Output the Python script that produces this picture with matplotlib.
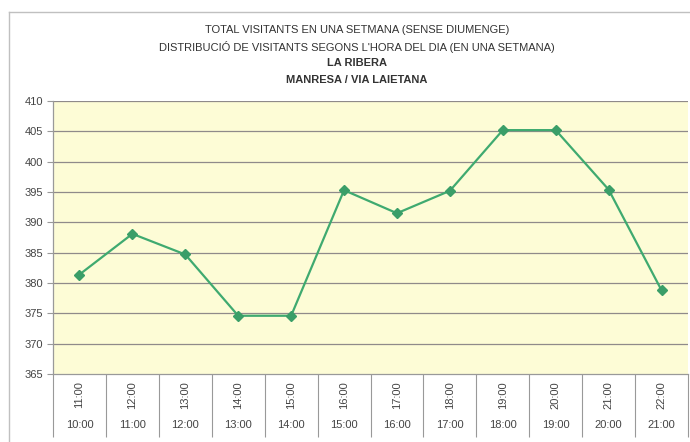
import matplotlib
matplotlib.use("Agg")
import matplotlib.pyplot as plt
from matplotlib.lines import Line2D
import matplotlib.transforms as mtransforms

plt.rcParams['font.family'] = ['Liberation Sans', 'DejaVu Sans']

title_lines = [
    "TOTAL VISITANTS EN UNA SETMANA (SENSE DIUMENGE)",
    "DISTRIBUCIÓ DE VISITANTS SEGONS L'HORA DEL DIA (EN UNA SETMANA)",
    "LA RIBERA",
    "MANRESA / VIA LAIETANA",
]
start_hours = ["10:00", "11:00", "12:00", "13:00", "14:00", "15:00",
               "16:00", "17:00", "18:00", "19:00", "20:00", "21:00"]
end_hours = ["11:00", "12:00", "13:00", "14:00", "15:00", "16:00",
             "17:00", "18:00", "19:00", "20:00", "21:00", "22:00"]
visitors = [381.4, 388.1, 384.7, 374.6, 374.6, 395.3,
            391.5, 395.2, 405.2, 405.2, 395.4, 378.8]
y_ticks = [365, 370, 375, 380, 385, 390, 395, 400, 405, 410]

W, H = 690, 442
fig = plt.figure(figsize=(W / 100, H / 100), dpi=100)
fig.patch.set_facecolor('white')

# outer chart frame (top and left)
fig.add_artist(Line2D([9 / W, 9 / W], [0, 1 - 12 / H], color='#c0c0c0', lw=1.0))
fig.add_artist(Line2D([9 / W, 1], [1 - 12 / H, 1 - 12 / H], color='#c0c0c0', lw=1.0))

left, right, top, bottom = 53, 688, 101, 374
ax = fig.add_axes([left / W, 1 - bottom / H, (right - left) / W, (bottom - top) / H])
ax.set_facecolor('#FDFCD6')

x = list(range(len(visitors)))
ax.set_xlim(-0.5, len(visitors) - 0.5)
ax.set_ylim(y_ticks[0], y_ticks[-1])

for v in y_ticks[1:]:
    ax.axhline(v, color='#8f8a8a', lw=0.9, zorder=1)

ax.plot(x, visitors, color='#3FAA70', lw=1.6, marker='D', markersize=5.5,
        markerfacecolor='#3A9E68', markeredgecolor='#3A9E68', zorder=3)

for s in ['top', 'right']:
    ax.spines[s].set_visible(False)
ax.spines['left'].set_color('#999999')
ax.spines['bottom'].set_color('#999999')
ax.spines['left'].set_linewidth(0.9)
ax.spines['bottom'].set_linewidth(0.9)

ax.set_yticks(y_ticks)
ax.set_yticklabels([str(v) for v in y_ticks], fontsize=8, color='#444444')
ax.tick_params(axis='y', length=4, width=0.8, color='#999999', pad=3)

# category dividers below axis
ax.set_xticks([i - 0.5 for i in range(len(visitors) + 1)], minor=True)
ax.set_xticks(x)
ax.set_xticklabels([])
ax.tick_params(axis='x', which='major', length=0)
ax.tick_params(axis='x', which='minor', length=45, width=0.8, color='#999999')

trans = mtransforms.blended_transform_factory(ax.transData, ax.transAxes)
ax_h = bottom - top
for i in x:
    ax.text(i, -21 / ax_h, end_hours[i], rotation=90, ha='center', va='center',
            fontsize=8, color='#444444', transform=trans)
    ax.text(i, -51 / ax_h, start_hours[i], ha='center', va='center',
            fontsize=8, color='#444444', transform=trans)

title_y = [30, 47, 63, 80]
for i, (t, yy) in enumerate(zip(title_lines, title_y)):
    fig.text(357 / W, 1 - yy / H, t, ha='center', va='center', fontsize=8,
             color='#333333', fontweight='bold' if i >= 2 else 'normal')

fig.savefig('out.png', dpi=100)
